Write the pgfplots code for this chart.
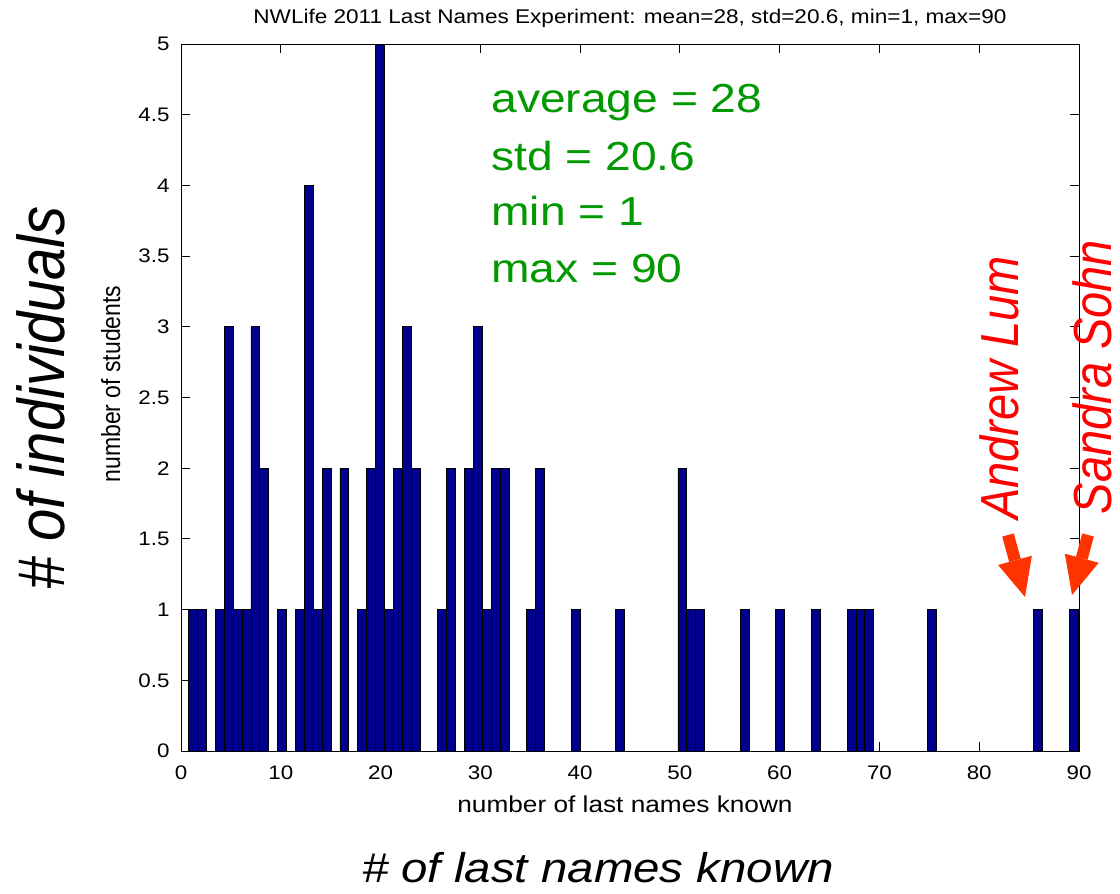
\documentclass[border=0pt]{standalone}
\usepackage{fontspec}
\setmainfont{Liberation Sans}
\usepackage{graphicx}
\usepackage{pgfplots}
\usepackage{pgfplotstable}
\pgfplotsset{compat=1.18}
\usetikzlibrary{arrows.meta}
\definecolor{barblue}{RGB}{0,0,140}
\definecolor{txtgreen}{RGB}{0,153,0}
\definecolor{namered}{RGB}{255,0,0}
\definecolor{arrowred}{RGB}{255,51,0}
\newcommand{\sx}[1]{\scalebox{1.14}[1]{#1}}
\newcommand{\sy}[1]{\scalebox{1}[1.14]{#1}}
\pgfplotstableread{
x y
1.218 1
2.109 1
3.893 1
4.784 3
5.676 1
6.567 1
7.459 3
8.351 2
10.134 1
11.917 1
12.809 4
13.700 1
14.592 2
16.375 2
18.158 1
19.050 2
19.942 5
20.833 1
21.725 2
22.616 3
23.508 2
26.183 1
27.074 2
28.858 2
29.749 3
30.641 1
31.532 2
32.424 2
35.099 1
35.990 2
39.557 1
44.015 1
50.256 2
51.148 1
52.039 1
56.497 1
60.064 1
63.630 1
67.196 1
68.088 1
68.980 1
75.221 1
85.920 1
89.487 1
}\histdata
\begin{document}
\begin{tikzpicture}
\begin{scope}[x=0.5pt,y=-0.5pt]
\useasboundingbox (0,0) rectangle (1120,894);
\end{scope}
\begin{axis}[
  at={(90.5pt,-375.5pt)}, anchor=south west,
  scale only axis, width=449pt, height=353.5pt,
  xmin=0, xmax=90, ymin=0, ymax=5,
  xtick={0,10,...,90}, ytick={0,0.5,...,5},
  tick align=inside, major tick length=4.5pt,
  tick style={black, line width=0.5pt},
  axis line style={black, line width=0.5pt},
  /pgf/number format/assume math mode=true,
  tick label style={font=\fontsize{9.8}{11}\selectfont},
  xticklabel={\sx{\pgfmathprintnumber{\tick}}},
  yticklabel={\sx{\pgfmathprintnumber{\tick}}},
  xticklabel style={yshift=-4pt},
  yticklabel style={xshift=-2.2pt},
]
\addplot[ybar, bar width=0.8916, fill=barblue, draw=black, line width=0.4pt] table {\histdata};
\end{axis}
\begin{scope}[x=0.5pt,y=-0.5pt]
\node[anchor=base, inner sep=0pt, font=\fontsize{9.9}{11}\selectfont] at (630,24)
  {\sx{NWLife 2011 Last Names Experiment: mean=28, std=20.6, min=1, max=90}};
\node[anchor=base, inner sep=0pt, font=\fontsize{11.5}{13}\selectfont] at (625,812)
  {\sx{number of last names known}};
\node[anchor=base, inner sep=0pt, rotate=90, font=\fontsize{11.5}{13}\selectfont] at (120,384)
  {\sy{number of students}};
\begin{scope}[every node/.style={anchor=base west, inner sep=0pt, text=txtgreen, font=\fontsize{20.25}{22}\selectfont}]
\node at (491,112) {\sx{average = 28}};
\node at (491,170) {\sx{std = 20.6}};
\node at (491,225) {\sx{min = 1}};
\node at (491,282) {\sx{max = 90}};
\end{scope}
\node[anchor=base, inner sep=0pt, font=\fontsize{20.8}{23}\selectfont\itshape] at (598,882)
  {\sx{\# of last names known}};
\node[anchor=base, inner sep=0pt, rotate=90, font=\fontsize{29}{32}\selectfont\itshape] at (64,398)
  {\sy{\# of individuals}};
\node[anchor=base, inner sep=0pt, rotate=90, text=namered, font=\fontsize{23.5}{26}\selectfont\itshape] at (1018,388)
  {\sy{Andrew Lum}};
\node[anchor=base, inner sep=0pt, rotate=90, text=namered, font=\fontsize{23.5}{26}\selectfont\itshape] at (1111,377)
  {\sy{Sandra Sohn}};
\draw[arrowred, line width=6pt, -{Triangle[length=19pt, width=17.5pt, line width=0pt]}] (1008,535) -- (1025,597);
\draw[arrowred, line width=6pt, -{Triangle[length=19pt, width=17.5pt, line width=0pt]}] (1088,535) -- (1072,595);
\end{scope}
\end{tikzpicture}
\end{document}
